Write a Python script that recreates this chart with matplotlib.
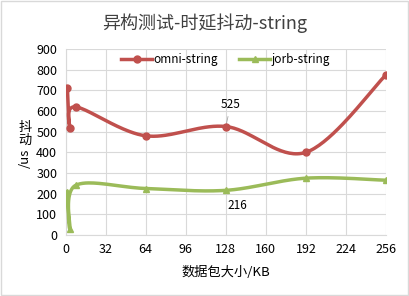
import matplotlib.pyplot as plt
import numpy as np

plt.rcParams['font.family'] = ['Noto Sans CJK SC', 'DejaVu Sans']

# 数据
size_kb = [1.5, 3.5, 8, 64, 128, 192, 256]
omni = [712, 520, 620, 480, 525, 400, 775]
jorb = [210, 30, 240, 225, 216, 275, 265]
xticks = [0, 32, 64, 96, 128, 160, 192, 224, 256]
yticks = [0, 100, 200, 300, 400, 500, 600, 700, 800, 900]


def smooth(x, y, n=40):
    # Excel 式平滑线 (Catmull-Rom 贝塞尔)
    x = np.asarray(x, float)
    y = np.asarray(y, float)
    px = np.concatenate([[x[0]], x, [x[-1]]])
    py = np.concatenate([[y[0]], y, [y[-1]]])
    xs, ys = [], []
    t = np.linspace(0, 1, n)
    for i in range(1, len(px) - 2):
        p0 = np.array([px[i], py[i]])
        p3 = np.array([px[i + 1], py[i + 1]])
        p1 = p0 + (np.array([px[i + 1], py[i + 1]]) - np.array([px[i - 1], py[i - 1]])) / 6
        p2 = p3 - (np.array([px[i + 2], py[i + 2]]) - np.array([px[i], py[i]])) / 6
        b = ((1 - t) ** 3)[:, None] * p0 + (3 * (1 - t) ** 2 * t)[:, None] * p1 \
            + (3 * (1 - t) * t ** 2)[:, None] * p2 + (t ** 3)[:, None] * p3
        xs.extend(b[:, 0])
        ys.extend(b[:, 1])
    return xs, ys


red = '#C0504D'
green = '#9BBB59'

fig = plt.figure(figsize=(4.09, 2.96), dpi=100)
ax = fig.add_axes([65.5 / 409, 1 - 235 / 296, 320.5 / 409, 186 / 296])

sx, sy = smooth(size_kb, omni)
ax.plot(sx, sy, color=red, lw=2.5, solid_capstyle='round', zorder=3)
ax.plot(size_kb, omni, 'o', color=red, ms=5, zorder=4)
sx, sy = smooth(size_kb, jorb)
ax.plot(sx, sy, color=green, lw=2.5, solid_capstyle='round', zorder=3)
ax.plot(size_kb, jorb, '^', color=green, ms=5, zorder=4)

# 图例
ax.plot([], [], color=red, lw=2.5, marker='o', ms=5, label='omni-string')
ax.plot([], [], color=green, lw=2.5, marker='^', ms=5, label='jorb-string')
h, l = ax.get_legend_handles_labels()
ax.legend(h[-2:], l[-2:], loc='upper center', ncol=2, frameon=False, fontsize=8.5,
          bbox_to_anchor=(0.5, 1.035), handlelength=2.6, columnspacing=1.8, handletextpad=0.15)

ax.annotate(str(omni[4]), (size_kb[4], omni[4]), xytext=(132, 600),
            fontsize=8.5, ha='center', va='bottom',
            arrowprops=dict(arrowstyle='-', color='#A6A6A6', lw=0.6))
ax.text(137, 145, str(jorb[4]), fontsize=8.5, ha='center', va='center')

ax.set_xlim(0, 256)
ax.set_ylim(0, 900)
ax.set_xticks(xticks)
ax.set_yticks(yticks)
ax.grid(True, color='#D9D9D9', lw=0.8)
ax.set_axisbelow(True)
for s in ['top', 'right']:
    ax.spines[s].set_visible(False)
ax.spines['left'].set_color('#D9D9D9')
ax.spines['bottom'].set_color('#D9D9D9')
ax.tick_params(length=0, labelsize=9, pad=6)

ax.set_xlabel('数据包大小/KB', fontsize=9.5, labelpad=7)
# 纵轴标题: 汉字竖排, 单位旋转
fig.text(25 / 409, 1 - 134 / 296, '抖\n动', fontsize=9.5, ha='center', va='center',
         linespacing=1.0)
fig.text(25 / 409, 1 - 158 / 296, '/us', fontsize=9.5, ha='center', va='center', rotation=90)
fig.suptitle('异构测试-时延抖动-string', fontsize=13, y=0.955, color='#404040')

fig.patches.append(plt.Rectangle((0.002, 0.003), 0.996, 0.994, transform=fig.transFigure,
                                 fill=False, edgecolor='#D9D9D9', lw=1))

fig.savefig('out.png', dpi=100)
